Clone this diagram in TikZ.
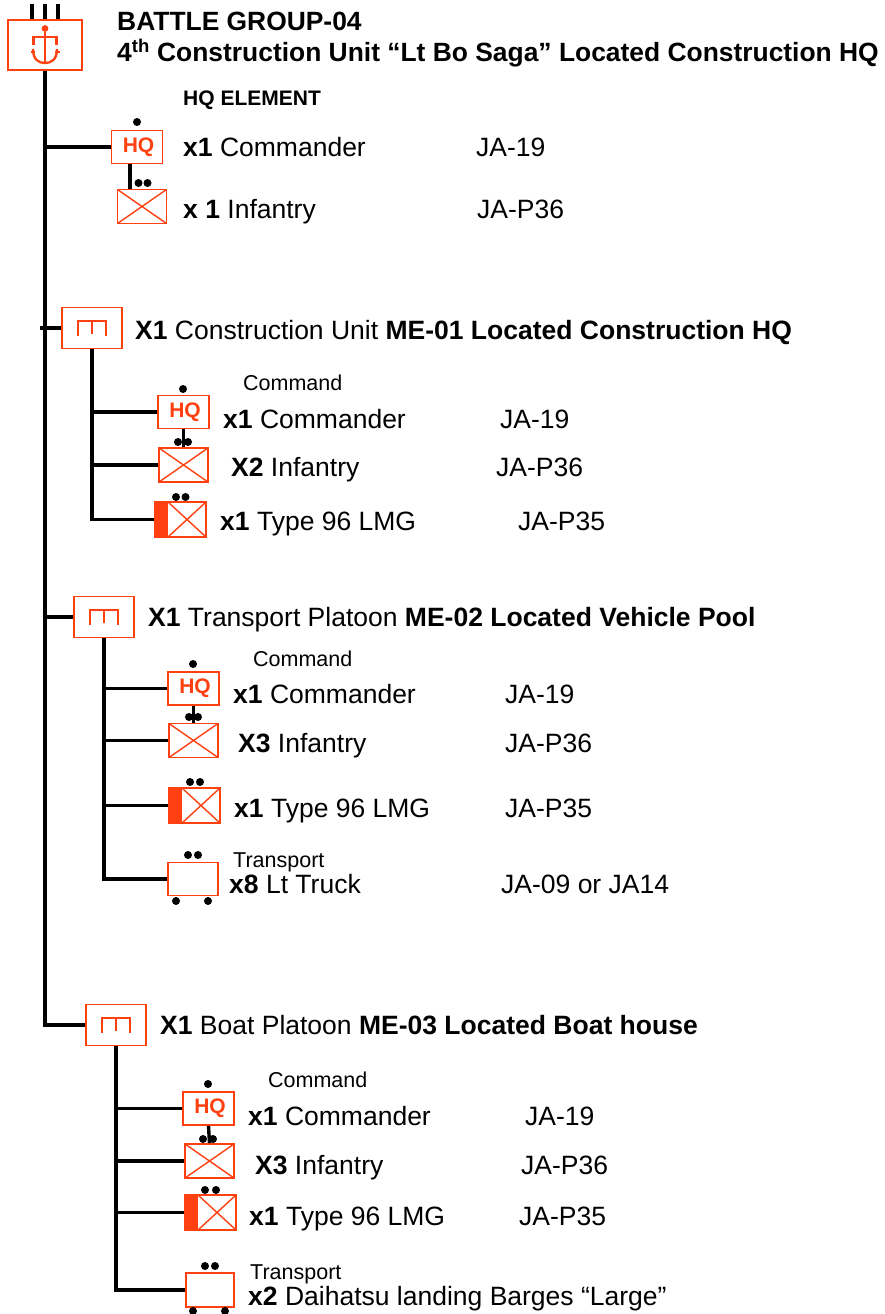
\documentclass[tikz,border=0pt]{standalone}
\usepackage{fontspec}
\setmainfont{Liberation Sans}
\definecolor{uor}{RGB}{255,64,16}
\begin{document}
\begin{tikzpicture}[x=1pt,y=-1pt,
  conn/.style={line width=3.4pt,black},
  obox/.style={draw=uor,line width=1.8pt,fill=white,inner sep=0pt,rectangle},
  hqb/.style={obox,minimum width=51pt,minimum height=33pt,text=uor,
    font=\bfseries\fontsize{21}{23}\selectfont},
  infb/.style={obox,minimum width=49pt,minimum height=34pt,
    path picture={\draw[uor,line width=1.4pt]
      (path picture bounding box.north west) -- (path picture bounding box.south east)
      (path picture bounding box.south west) -- (path picture bounding box.north east);}},
  lmgb/.style={obox,minimum width=51pt,minimum height=35pt,
    path picture={\fill[uor] (path picture bounding box.north west) rectangle
      ([xshift=13pt]path picture bounding box.south west);
      \draw[uor,line width=1.4pt]
      ([xshift=13pt]path picture bounding box.north west) -- (path picture bounding box.south east)
      ([xshift=13pt]path picture bounding box.south west) -- (path picture bounding box.north east);}},
  trb/.style={obox,minimum width=50pt,minimum height=33pt},
  unitb/.style={obox,minimum width=60pt,minimum height=41pt,
    path picture={\draw[uor,line width=2pt]
      ([shift={(-14pt,-8pt)}]path picture bounding box.center) -- ++(0pt,15pt) -- ++(28pt,0pt) -- ++(0pt,-15pt)
      ([shift={(0pt,7pt)}]path picture bounding box.center) -- ++(0pt,-13pt);}},
  txt/.style={anchor=base west,inner sep=0pt,font=\fontsize{26.5}{30}\selectfont},
  sml/.style={anchor=base west,inner sep=0pt,font=\fontsize{21.5}{24}\selectfont},
  ttl/.style={anchor=base west,inner sep=0pt,font=\bfseries\fontsize{26.4}{30}\selectfont}
]
\useasboundingbox (0,0) rectangle (884,1314);

% ---- top battle group box
\draw[conn] (32,4) -- (32,20) (45,4) -- (45,20) (58,4) -- (58,20);
\node[obox,minimum width=74pt,minimum height=50pt] (top) at (45,45) {};
\fill[uor] (45,28.5) circle (3.4pt);
\draw[uor,line width=2.3pt] (33.5,45) -- (33.5,37) -- (56.5,37) -- (56.5,45);
\draw[uor,line width=2.3pt] (45,32) -- (45,62);
\draw[uor,line width=2.3pt] (33,49) .. controls (33,60) and (39,63) .. (45,63) .. controls (51,63) and (57,60) .. (57,49);
\draw[uor,line width=2pt] (30.5,52) -- (35,52) (55,52) -- (59.5,52);

\node[ttl] (title1) at (117,31) {BATTLE GROUP-04};
\node[ttl] (title2) at (117,62) {4\textsuperscript{th} Construction Unit “Lt Bo Saga” Located Construction HQ};
\node[anchor=base west,inner sep=0pt,font=\bfseries\fontsize{21}{23}\selectfont] (hqel) at (183,105) {HQ ELEMENT};

% ---- HQ element
\node[hqb] (h0) at (137,147) {\hspace{3pt}HQ};
\node[infb] (i0) at (142,206.5) {};
\coordinate (b0) at (45,147);
\draw[conn] (b0) -- (h0.west);
\draw[conn] ([xshift=-7pt]h0.south) -- ([xshift=-7pt]h0.south |- i0.north);
\fill (137,122) circle (4pt);
\fill (138.5,183) circle (4pt) (147.5,183) circle (4pt);
\node[txt] (r0a) at (183,156.5) {\textbf{x1} Commander};
\node[txt] (r0b) at (476,156.5) {JA-19};
\node[txt] (r0c) at (183,218) {\textbf{x 1} Infantry};
\node[txt] (r0d) at (477,218) {JA-P36};

% ---- Section 1
\node[unitb] (u1) at (92,328) {};
\coordinate (s1) at (40,328);
\draw[conn] (s1) -- (u1.west);
\node[txt] (hd1) at (135,339.5) {\textbf{X1} Construction Unit \textbf{ME-01 Located Construction HQ}};
\node[hqb] (h1) at (183.5,412) {\hspace{3pt}HQ};
\node[infb] (i1) at (183.5,465) {};
\node[lmgb] (l1) at (180.5,519.5) {};
\draw[conn] (u1.south) |- (l1.west);
\draw[conn] (u1.south |- h1.west) -- (h1.west);
\draw[conn] (u1.south |- i1.west) -- (i1.west);
\draw[conn] (h1.south) -- (i1.north);
\fill (183,389) circle (4pt);
\fill (178,442) circle (4pt) (188,442) circle (4pt);
\fill (176,497) circle (4pt) (185.5,497) circle (4pt);
\node[sml] (c1) at (243,390.5) {Command};
\node[txt] (r1a) at (223,428.5) {\textbf{x1} Commander};
\node[txt] (r1b) at (500,428.5) {JA-19};
\node[txt] (r1c) at (231,476.5) {\textbf{X2} Infantry};
\node[txt] (r1d) at (496,476.5) {JA-P36};
\node[txt] (r1e) at (220,530.5) {\textbf{x1} Type 96 LMG};
\node[txt] (r1f) at (518,530.5) {JA-P35};

% ---- Section 2
\node[unitb] (u2) at (104,617) {};
\coordinate (s2) at (45,617);
\draw[conn] (s2) -- (u2.west);
\node[txt] (hd2) at (148,626.5) {\textbf{X1} Transport Platoon \textbf{ME-02 Located Vehicle Pool}};
\node[hqb] (h2) at (193.5,688.5) {\hspace{3pt}HQ};
\node[infb] (i2) at (193.5,740.5) {};
\node[lmgb] (l2) at (194.5,805.5) {};
\node[trb] (t2) at (193,879) {};
\draw[conn] (u2.south) |- (t2.west);
\draw[conn] (u2.south |- h2.west) -- (h2.west);
\draw[conn] (u2.south |- i2.west) -- (i2.west);
\draw[conn] (u2.south |- l2.west) -- (l2.west);
\draw[conn] (h2.south) -- (i2.north);
\fill (193,664) circle (4pt);
\fill (189,717) circle (4pt) (198,717) circle (4pt);
\fill (190,782) circle (4pt) (200,782) circle (4pt);
\fill (188,855) circle (4pt) (198,855) circle (4pt);
\fill (176,901) circle (4pt) (208,901) circle (4pt);
\node[sml] (c2) at (253,666.5) {Command};
\node[txt] (r2a) at (233,703.5) {\textbf{x1} Commander};
\node[txt] (r2b) at (505,703.5) {JA-19};
\node[txt] (r2c) at (238,752.5) {\textbf{X3} Infantry};
\node[txt] (r2d) at (505,752.5) {JA-P36};
\node[txt] (r2e) at (234,817.5) {\textbf{x1} Type 96 LMG};
\node[txt] (r2f) at (505,817.5) {JA-P35};
\node[sml] (tp2) at (233,867.5) {Transport};
\node[txt] (r2g) at (229,893.5) {\textbf{x8} Lt Truck};
\node[txt] (r2h) at (501,893.5) {JA-09 or JA14};

% ---- Section 3
\node[unitb] (u3) at (116,1025) {};
\draw[conn] (top.south) |- (u3.west);
\node[txt] (hd3) at (160,1034.5) {\textbf{X1} Boat Platoon \textbf{ME-03 Located Boat house}};
\node[hqb] (h3) at (208.5,1108.5) {\hspace{3pt}HQ};
\node[infb] (i3) at (209.5,1161) {};
\node[lmgb] (l3) at (210.5,1212.5) {};
\node[trb,minimum width=48pt,minimum height=34pt] (t3) at (210,1290) {};
\draw[conn] (u3.south) |- (t3.west);
\draw[conn] (u3.south |- h3.west) -- (h3.west);
\draw[conn] (u3.south |- i3.west) -- (i3.west);
\draw[conn] (u3.south |- l3.west) -- (l3.west);
\draw[conn] (h3.south) -- (i3.north);
\fill (208,1084) circle (4pt);
\fill (203,1139) circle (4pt) (213,1139) circle (4pt);
\fill (205,1266) circle (4pt) (215,1266) circle (4pt);
\fill (205,1190) circle (4pt) (216,1190) circle (4pt);
\fill (193,1311) circle (4pt) (225,1311) circle (4pt);
\node[sml] (c3) at (268,1087.5) {Command};
\node[txt] (r3a) at (248,1125.5) {\textbf{x1} Commander};
\node[txt] (r3b) at (525,1125.5) {JA-19};
\node[txt] (r3c) at (255,1174.5) {\textbf{X3} Infantry};
\node[txt] (r3d) at (521,1174.5) {JA-P36};
\node[txt] (r3e) at (249,1225.5) {\textbf{x1} Type 96 LMG};
\node[txt] (r3f) at (519,1225.5) {JA-P35};
\node[sml] (tp3) at (250,1279.5) {Transport};
\node[txt] (r3g) at (248,1305.5) {\textbf{x2} Daihatsu landing Barges “Large”};
\end{tikzpicture}
\end{document}
